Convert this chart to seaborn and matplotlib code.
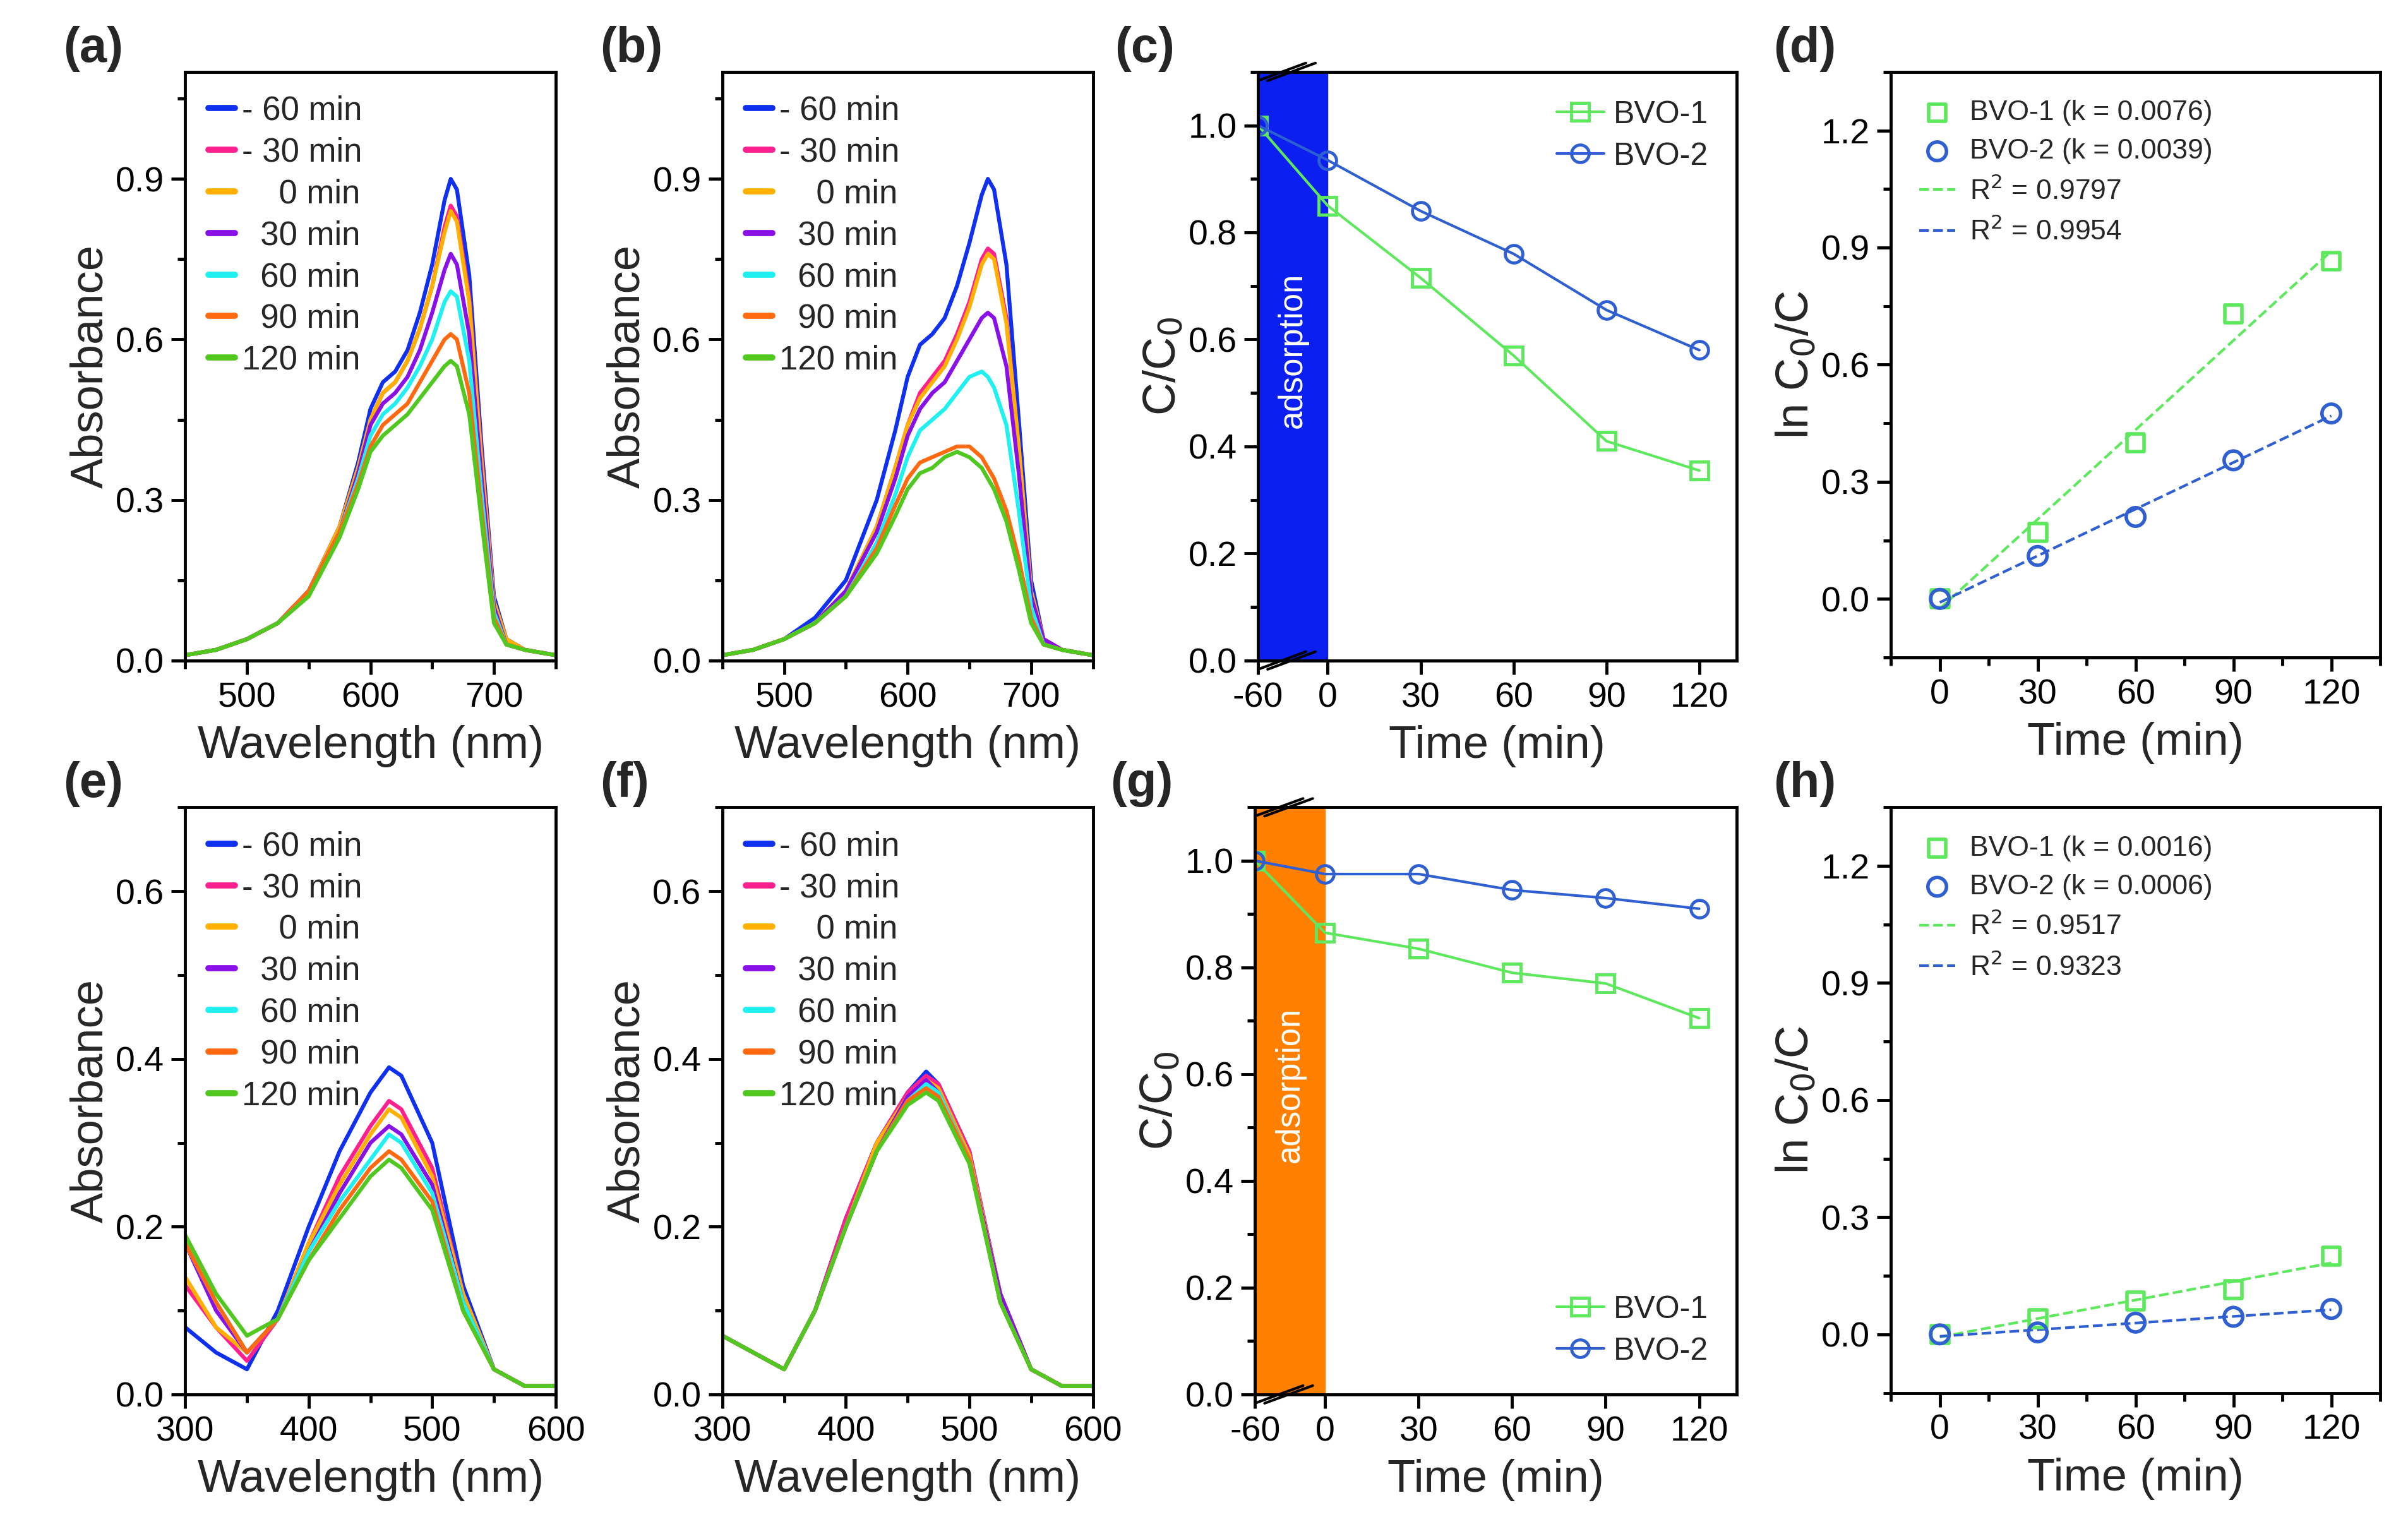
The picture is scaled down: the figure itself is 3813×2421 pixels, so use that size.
import numpy as np
import matplotlib
matplotlib.use("Agg")
import matplotlib.pyplot as plt
import seaborn as sns
from matplotlib.ticker import MultipleLocator

sns.set_theme(style="ticks")
plt.rcParams['font.family'] = ['Liberation Sans', 'DejaVu Sans']

legend_labels = ['- 60 min', '- 30 min', '    0 min', '  30 min', '  60 min', '  90 min', '120 min']
colors = ['#1030f0', '#ff2090', '#ffb000', '#8a10e8', '#20f0f0', '#ff6a10', '#50c820']

wl_ab = [450, 475, 500, 525, 550, 575, 590, 600, 610, 620, 630, 640, 650, 660, 665, 670, 680, 690, 700, 710, 725, 750]
spec_a = [
    [0.01, 0.02, 0.04, 0.07, 0.13, 0.25, 0.37, 0.47, 0.52, 0.54, 0.58, 0.65, 0.74, 0.86, 0.90, 0.88, 0.72, 0.40, 0.12, 0.04, 0.02, 0.01],
    [0.01, 0.02, 0.04, 0.07, 0.13, 0.25, 0.36, 0.45, 0.50, 0.52, 0.56, 0.62, 0.70, 0.81, 0.85, 0.83, 0.68, 0.38, 0.11, 0.04, 0.02, 0.01],
    [0.01, 0.02, 0.04, 0.07, 0.13, 0.25, 0.36, 0.45, 0.50, 0.52, 0.56, 0.62, 0.70, 0.80, 0.84, 0.82, 0.67, 0.37, 0.11, 0.04, 0.02, 0.01],
    [0.01, 0.02, 0.04, 0.07, 0.13, 0.24, 0.35, 0.44, 0.48, 0.50, 0.53, 0.58, 0.65, 0.73, 0.76, 0.74, 0.61, 0.34, 0.10, 0.03, 0.02, 0.01],
    [0.01, 0.02, 0.04, 0.07, 0.13, 0.24, 0.34, 0.42, 0.46, 0.48, 0.51, 0.55, 0.60, 0.67, 0.69, 0.68, 0.56, 0.31, 0.09, 0.03, 0.02, 0.01],
    [0.01, 0.02, 0.04, 0.07, 0.13, 0.24, 0.33, 0.40, 0.44, 0.46, 0.48, 0.52, 0.56, 0.60, 0.61, 0.60, 0.50, 0.28, 0.08, 0.03, 0.02, 0.01],
    [0.01, 0.02, 0.04, 0.07, 0.12, 0.23, 0.32, 0.39, 0.42, 0.44, 0.46, 0.49, 0.52, 0.55, 0.56, 0.55, 0.46, 0.26, 0.07, 0.03, 0.02, 0.01],
]
spec_b = [
    [0.01, 0.02, 0.04, 0.08, 0.15, 0.30, 0.43, 0.53, 0.59, 0.61, 0.64, 0.70, 0.78, 0.87, 0.90, 0.88, 0.74, 0.45, 0.15, 0.04, 0.02, 0.01],
    [0.01, 0.02, 0.04, 0.07, 0.13, 0.25, 0.36, 0.44, 0.50, 0.53, 0.56, 0.61, 0.67, 0.75, 0.77, 0.76, 0.64, 0.40, 0.13, 0.04, 0.02, 0.01],
    [0.01, 0.02, 0.04, 0.07, 0.13, 0.25, 0.36, 0.44, 0.49, 0.52, 0.55, 0.60, 0.66, 0.74, 0.76, 0.75, 0.63, 0.40, 0.13, 0.04, 0.02, 0.01],
    [0.01, 0.02, 0.04, 0.07, 0.13, 0.24, 0.34, 0.42, 0.47, 0.50, 0.52, 0.56, 0.60, 0.64, 0.65, 0.64, 0.55, 0.35, 0.12, 0.04, 0.02, 0.01],
    [0.01, 0.02, 0.04, 0.07, 0.12, 0.22, 0.31, 0.38, 0.43, 0.45, 0.47, 0.50, 0.53, 0.54, 0.53, 0.51, 0.44, 0.28, 0.10, 0.03, 0.02, 0.01],
    [0.01, 0.02, 0.04, 0.07, 0.12, 0.21, 0.29, 0.34, 0.37, 0.38, 0.39, 0.40, 0.40, 0.38, 0.36, 0.34, 0.28, 0.19, 0.08, 0.03, 0.02, 0.01],
    [0.01, 0.02, 0.04, 0.07, 0.12, 0.20, 0.27, 0.32, 0.35, 0.36, 0.38, 0.39, 0.38, 0.36, 0.34, 0.32, 0.26, 0.17, 0.07, 0.03, 0.02, 0.01],
]
wl_ef = [300, 325, 350, 375, 400, 425, 450, 465, 475, 500, 525, 550, 575, 600]
spec_e = [
    [0.08, 0.05, 0.03, 0.10, 0.20, 0.29, 0.36, 0.39, 0.38, 0.30, 0.13, 0.03, 0.01, 0.01],
    [0.13, 0.08, 0.04, 0.09, 0.18, 0.26, 0.32, 0.35, 0.34, 0.27, 0.12, 0.03, 0.01, 0.01],
    [0.14, 0.08, 0.05, 0.09, 0.18, 0.25, 0.31, 0.34, 0.33, 0.26, 0.12, 0.03, 0.01, 0.01],
    [0.18, 0.10, 0.05, 0.09, 0.17, 0.24, 0.30, 0.32, 0.31, 0.25, 0.11, 0.03, 0.01, 0.01],
    [0.18, 0.11, 0.05, 0.09, 0.17, 0.23, 0.28, 0.31, 0.30, 0.24, 0.11, 0.03, 0.01, 0.01],
    [0.18, 0.11, 0.05, 0.09, 0.16, 0.22, 0.27, 0.29, 0.28, 0.23, 0.10, 0.03, 0.01, 0.01],
    [0.19, 0.12, 0.07, 0.09, 0.16, 0.21, 0.26, 0.28, 0.27, 0.22, 0.10, 0.03, 0.01, 0.01],
]
spec_f = [
    [0.07, 0.05, 0.03, 0.10, 0.21, 0.30, 0.36, 0.385, 0.37, 0.29, 0.12, 0.03, 0.01, 0.01],
    [0.07, 0.05, 0.03, 0.10, 0.21, 0.30, 0.36, 0.38, 0.37, 0.29, 0.12, 0.03, 0.01, 0.01],
    [0.07, 0.05, 0.03, 0.10, 0.20, 0.30, 0.355, 0.375, 0.365, 0.285, 0.12, 0.03, 0.01, 0.01],
    [0.07, 0.05, 0.03, 0.10, 0.20, 0.29, 0.355, 0.375, 0.36, 0.28, 0.12, 0.03, 0.01, 0.01],
    [0.07, 0.05, 0.03, 0.10, 0.20, 0.29, 0.35, 0.37, 0.36, 0.28, 0.11, 0.03, 0.01, 0.01],
    [0.07, 0.05, 0.03, 0.10, 0.20, 0.29, 0.35, 0.365, 0.355, 0.28, 0.11, 0.03, 0.01, 0.01],
    [0.07, 0.05, 0.03, 0.10, 0.20, 0.29, 0.345, 0.36, 0.35, 0.275, 0.11, 0.03, 0.01, 0.01],
]

times = [-60, 0, 30, 60, 90, 120]
c_bvo1 = [1.0, 0.85, 0.715, 0.57, 0.41, 0.355]
c_bvo2 = [1.0, 0.935, 0.84, 0.76, 0.655, 0.58]
g_bvo1 = [1.0, 0.865, 0.835, 0.79, 0.77, 0.705]
g_bvo2 = [1.0, 0.975, 0.975, 0.945, 0.93, 0.91]

kt = [0, 30, 60, 90, 120]
d_bvo1 = [0, 0.17, 0.40, 0.73, 0.865]
d_bvo2 = [0, 0.11, 0.21, 0.355, 0.475]
h_bvo1 = [0, 0.04, 0.085, 0.115, 0.20]
h_bvo2 = [0, 0.005, 0.03, 0.045, 0.065]
d_leg = ['BVO-1 (k = 0.0076)', 'BVO-2 (k = 0.0039)', 'R$^2$ = 0.9797', 'R$^2$ = 0.9954']
h_leg = ['BVO-1 (k = 0.0016)', 'BVO-2 (k = 0.0006)', 'R$^2$ = 0.9517', 'R$^2$ = 0.9323']

GREEN = '#5ee85e'
BLUE2 = '#2f5fd0'
SANS = ['Liberation Sans', 'DejaVu Sans']
LAB = dict(family=SANS, fontsize=52)
TICKFS = 40
LETTER = dict(fontsize=56, fontweight='bold', family=SANS, va='bottom', ha='left')

fig = plt.figure(figsize=(38.13, 24.21), dpi=100)
W, H = 1560, 1000
def rect(x0, x1, ytop, ybot):
    return [x0 / W, 1 - ybot / H, (x1 - x0) / W, (ybot - ytop) / H]

def style(ax):
    for s in ax.spines.values():
        s.set_linewidth(3.5); s.set_color('black')
    ax.tick_params(which='both', direction='out', width=3.5, labelsize=TICKFS, colors='black', top=False, right=False, pad=8)
    ax.tick_params(which='major', length=16)
    ax.tick_params(which='minor', length=9)
    ax.xaxis.labelpad = 12

def spectra(ax, wl, spec, xlim, xmajor, ylim, ymajor, letter):
    for ll, col, y in zip(legend_labels, colors, spec):
        sns.lineplot(x=wl, y=y, ax=ax, color=col, lw=4.5, label=ll)
    ax.set_xlim(*xlim); ax.set_ylim(*ylim)
    ax.xaxis.set_major_locator(MultipleLocator(xmajor)); ax.xaxis.set_minor_locator(MultipleLocator(xmajor / 2))
    ax.yaxis.set_major_locator(MultipleLocator(ymajor)); ax.yaxis.set_minor_locator(MultipleLocator(ymajor / 2))
    ax.yaxis.set_major_formatter(matplotlib.ticker.FormatStrFormatter('%.1f'))
    ax.set_xlabel('Wavelength (nm)', **LAB); ax.set_ylabel('Absorbance', **LAB)
    style(ax)
    leg = ax.legend(loc='upper left', frameon=False, fontsize=38, handlelength=0.8, handletextpad=0.2,
                    labelspacing=0.3, borderaxespad=0.3)
    for line in leg.get_lines():
        line.set_linewidth(7)
    ax.text(-0.33, 1.0, letter, transform=ax.transAxes, **LETTER)

axa = fig.add_axes(rect(120, 360, 47, 432)); spectra(axa, wl_ab, spec_a, (450, 750), 100, (0, 1.1), 0.3, '(a)')
axb = fig.add_axes(rect(468, 708, 47, 432)); spectra(axb, wl_ab, spec_b, (450, 750), 100, (0, 1.1), 0.3, '(b)')
axe = fig.add_axes(rect(120, 360, 528, 912)); spectra(axe, wl_ef, spec_e, (300, 600), 100, (0, 0.7), 0.2, '(e)')
axf = fig.add_axes(rect(468, 708, 528, 912)); spectra(axf, wl_ef, spec_f, (300, 600), 100, (0, 0.7), 0.2, '(f)')

def tpos(t):
    # broken axis: -60..0 compressed to 22.5 units
    return t * 22.5 / 60 if t < 0 else t

def kinetics(ax, y1, y2, rcolor, leg_loc, letter):
    xs = [tpos(t) for t in times]
    ax.axvspan(tpos(-60), 0, color=rcolor, zorder=0)
    ax.text(-11.25, 0.58, 'adsorption', rotation=90, color='white', fontsize=38, ha='center', va='center', family=SANS)
    sns.lineplot(x=xs, y=y1, ax=ax, color=GREEN, lw=3, marker='s', markersize=20, markerfacecolor='none',
                 markeredgecolor=GREEN, markeredgewidth=3.5, label='BVO-1')
    sns.lineplot(x=xs, y=y2, ax=ax, color=BLUE2, lw=3, marker='o', markersize=20, markerfacecolor='none',
                 markeredgecolor=BLUE2, markeredgewidth=3.5, label='BVO-2')
    ax.set_xlim(tpos(-60), 132); ax.set_ylim(0, 1.1)
    ax.set_xticks([tpos(t) for t in times]); ax.set_xticklabels([str(t) for t in times])
    ax.yaxis.set_major_locator(MultipleLocator(0.2)); ax.yaxis.set_minor_locator(MultipleLocator(0.1))
    ax.yaxis.set_major_formatter(matplotlib.ticker.FormatStrFormatter('%.1f'))
    ax.set_xlabel('Time (min)', **LAB); ax.set_ylabel('C/C$_0$', **LAB)
    style(ax)
    ax.legend(loc=leg_loc, frameon=False, handlelength=1.5, handletextpad=0.3, labelspacing=0.4,
              prop={'family': SANS, 'size': 36})
    ax.text(-0.3, 1.0, letter, transform=ax.transAxes, **LETTER)
    for yy in (0, 1):
        for dx in (0.0, 0.02):
            ax.plot([dx, dx + 0.1], [yy - 0.015, yy + 0.015], transform=ax.transAxes,
                    color='black', lw=3, clip_on=False)

axc = fig.add_axes(rect(815, 1125, 47, 432)); kinetics(axc, c_bvo1, c_bvo2, '#0a1ff0', 'upper right', '(c)')
axg = fig.add_axes(rect(813, 1125, 528, 912)); kinetics(axg, g_bvo1, g_bvo2, '#ff8000', 'lower right', '(g)')

def lnplot(ax, y1, y2, legs, letter):
    x = np.array(kt)
    sns.scatterplot(x=kt, y=y1, ax=ax, marker='s', s=400, facecolor='none', edgecolor=GREEN, linewidth=4, label=legs[0], zorder=3)
    sns.scatterplot(x=kt, y=y2, ax=ax, marker='o', s=450, facecolor='none', edgecolor=BLUE2, linewidth=4, label=legs[1], zorder=3)
    p1 = np.polyfit(x, y1, 1); p2 = np.polyfit(x, y2, 1)
    ax.plot(x, np.polyval(p1, x), '--', color=GREEN, lw=3, label=legs[2])
    ax.plot(x, np.polyval(p2, x), '--', color=BLUE2, lw=3, label=legs[3])
    ax.set_xlim(-15, 135); ax.set_ylim(-0.15, 1.35)
    ax.set_xticks(kt)
    ax.xaxis.set_minor_locator(MultipleLocator(15))
    ax.yaxis.set_major_locator(MultipleLocator(0.3)); ax.yaxis.set_minor_locator(MultipleLocator(0.15))
    ax.yaxis.set_major_formatter(matplotlib.ticker.FormatStrFormatter('%.1f'))
    ax.set_xlabel('Time (min)', **LAB); ax.set_ylabel('ln C$_0$/C', **LAB)
    style(ax)
    ax.legend(loc='upper left', frameon=False, handlelength=1.3, handletextpad=0.5, labelspacing=0.45,
              borderaxespad=0.6, prop={'family': SANS, 'size': 32})
    ax.text(-0.24, 1.0, letter, transform=ax.transAxes, **LETTER)

axd = fig.add_axes(rect(1225, 1542, 47, 430)); lnplot(axd, d_bvo1, d_bvo2, d_leg, '(d)')
axh = fig.add_axes(rect(1225, 1542, 528, 911)); lnplot(axh, h_bvo1, h_bvo2, h_leg, '(h)')

fig.savefig('out.png', dpi=100)
